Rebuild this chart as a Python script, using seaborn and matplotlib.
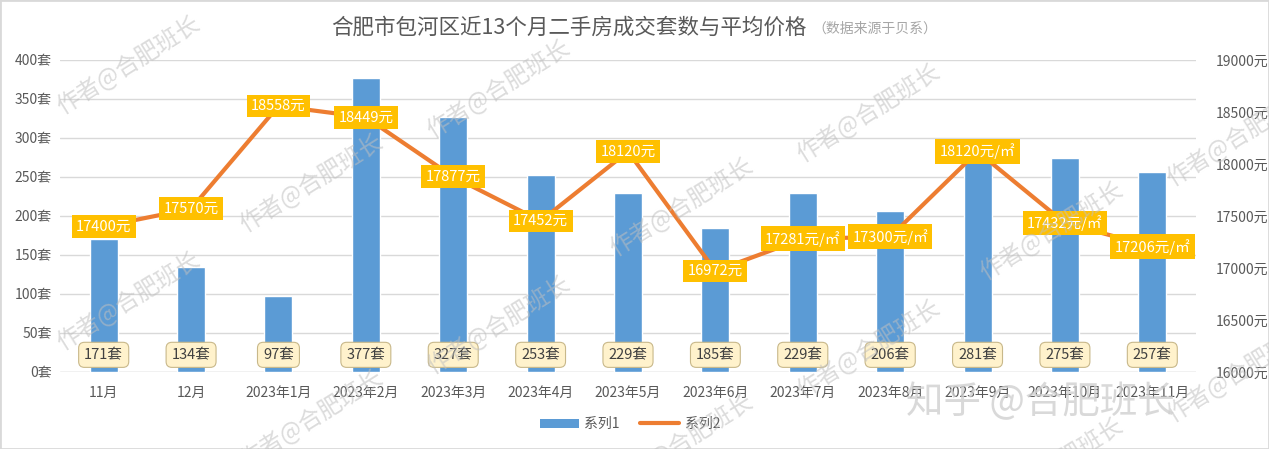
import matplotlib
matplotlib.use("Agg")
import matplotlib.pyplot as plt
import seaborn as sns
import pandas as pd
import numpy as np
from matplotlib.patches import Rectangle, Patch
from matplotlib.lines import Line2D
import matplotlib.transforms as mtransforms

months = ["11月", "12月", "2023年1月", "2023年2月", "2023年3月", "2023年4月", "2023年5月",
          "2023年6月", "2023年7月", "2023年8月", "2023年9月", "2023年10月", "2023年11月"]
counts = [171, 134, 97, 377, 327, 253, 229, 185, 229, 206, 281, 275, 257]
prices = [17400, 17570, 18558, 18449, 17877, 17452, 18120, 16972, 17281, 17300, 18120, 17432, 17206]
price_units = ["元", "元", "元", "元", "元", "元", "元", "元", "元/㎡", "元/㎡", "元/㎡", "元/㎡", "元/㎡"]
left_ticks = [0, 50, 100, 150, 200, 250, 300, 350, 400]
right_ticks = [16000, 16500, 17000, 17500, 18000, 18500, 19000]

sns.set_theme(style="white")
FONT = ["Noto Sans CJK SC", "DejaVu Sans"]
plt.rcParams["font.family"] = FONT

BLUE = "#5B9BD5"
ORANGE = "#ED7D31"
GOLD = "#FFC000"
GRAY = "#595959"

fig = plt.figure(figsize=(12.69, 4.49), dpi=100)
ax = fig.add_axes([60/1269, 1-372/449, 1136/1269, 312/449])

df = pd.DataFrame({"month": months, "count": counts, "price": prices})
sns.barplot(data=df, x="month", y="count", color=BLUE, width=0.32, ax=ax,
            saturation=1, zorder=3)
ax.set_ylim(0, 400)
ax.set_xlim(-0.5, len(months) - 0.5)
ax.set_yticks(left_ticks)
ax.set_yticklabels([f"{v}套" for v in left_ticks], color=GRAY, fontsize=10)
ax.set_xticks(range(len(months)))
ax.set_xticklabels(months, color=GRAY, fontsize=10)
ax.set_xlabel("")
ax.set_ylabel("")
ax.grid(axis="y", color="#D9D9D9", lw=1, zorder=0)
for s in ax.spines.values():
    s.set_visible(False)
ax.axhline(0, color="#D9D9D9", lw=1, zorder=1)
ax.tick_params(axis="y", length=0, pad=6)
ax.tick_params(axis="x", length=0, pad=10)

ax2 = ax.twinx()
x = np.arange(len(months))
sns.lineplot(x=x, y=prices, color=ORANGE, lw=3, ax=ax2, zorder=4)
ax2.set_ylim(16000, 19000)
ax2.set_yticks(right_ticks)
ax2.set_yticklabels([f"{v}元" for v in right_ticks], color=GRAY, fontsize=10)
ax2.set_xlim(-0.5, len(months) - 0.5)
for s in ax2.spines.values():
    s.set_visible(False)
ax2.tick_params(axis="y", length=0, pad=14)
ax2.set_ylabel("")

# count labels near the base
trans = mtransforms.blended_transform_factory(ax.transData, ax.transAxes)
for i, c in enumerate(counts):
    ax2.text(i, 0.055, f"{c}套", transform=trans, ha="center", va="center",
             fontsize=10.5, color="#404040", zorder=6,
             bbox=dict(boxstyle="round,pad=0.38,rounding_size=0.4", fc="#FFF2CC",
                       ec="#C8B88A", lw=0.8))

# price labels centered on points
for i, (p, u) in enumerate(zip(prices, price_units)):
    ax2.text(i, p, f"{p}{u}", ha="center", va="center", fontsize=10.5,
             color="white", zorder=7,
             bbox=dict(boxstyle="square,pad=0.3", fc=GOLD, ec="none"))

# title
fig.text(806/1269, 1-28/449, "合肥市包河区近13个月二手房成交套数与平均价格", ha="right",
         va="center", fontsize=15.5, color=GRAY)
fig.text(812/1269, 1-29/449, "（数据来源于贝系）", ha="left", va="center",
         fontsize=10, color="#A6A6A6")

# legend
handles = [Patch(facecolor=BLUE, edgecolor="none"), Line2D([0], [0], color=ORANGE, lw=3)]
fig.legend(handles, ["系列1", "系列2"], loc="center", bbox_to_anchor=(630/1269, 1-424/449),
           ncol=2, frameon=False, fontsize=10, labelcolor=GRAY, handlelength=2.8,
           handleheight=0.6, columnspacing=1.5, handletextpad=0.4)

# watermarks
for j in range(0, 4):
    for i in range(0, 4):
        cx = 128 + 370*i + 183*(j % 2)
        cy = 65 + 24*i + 118*j
        if cx > 1300 or cy > 470:
            continue
        fig.text(cx/1269, 1-cy/449, "作者@合肥班长", rotation=32, ha="center", va="center",
                 fontsize=17, color="#BFBFBF", alpha=0.55, zorder=10)
fig.text(1040/1269, 1-403/449, "知乎 @合肥班长", ha="center", va="center", fontsize=27,
         color="#D0D0D0", alpha=0.8, zorder=10)

fig.patches.append(Rectangle((0, 0), 1, 1, transform=fig.transFigure, fill=False,
                             ec="#D9D9D9", lw=2))

fig.savefig("out.png", dpi=100)
